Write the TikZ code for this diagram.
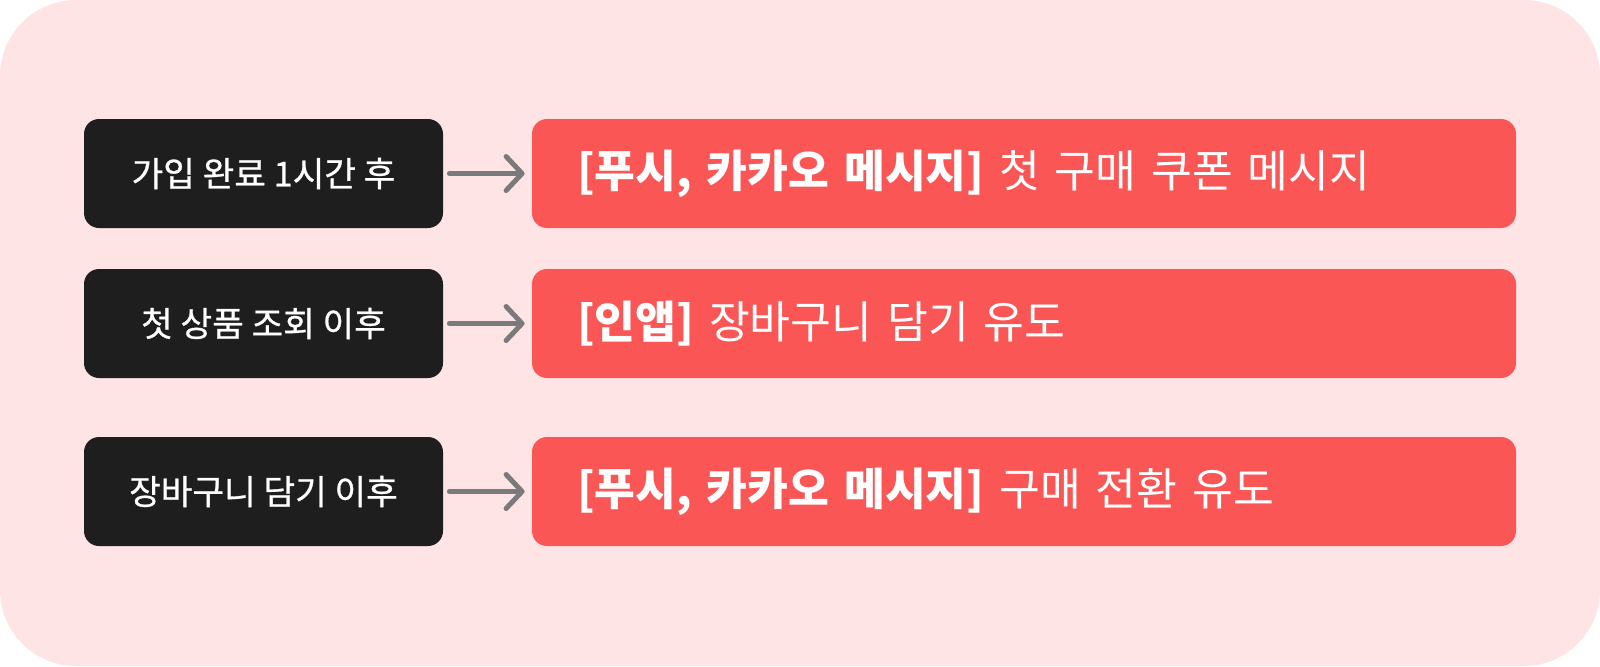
\documentclass[tikz,border=0pt]{standalone}
\usepackage{fontspec}
\newfontfamily\kr{Noto Sans CJK KR}
\newfontfamily\krmid{Noto Sans CJK KR}[FakeBold=0.8]
\usetikzlibrary{arrows.meta}
\definecolor{bgpink}{RGB}{255,228,229}
\definecolor{boxblack}{RGB}{30,30,30}
\definecolor{msgred}{RGB}{250,86,86}
\definecolor{arrowgray}{RGB}{122,122,122}
\tikzset{
  trigger/.style={rectangle, fill=boxblack, rounded corners=7.5pt, inner sep=0pt,
    minimum width=179.5pt, minimum height=54.5pt, text=white,
    font=\krmid\fontsize{17.2}{17.2}\selectfont},
  message/.style={rectangle, fill=msgred, rounded corners=7.5pt, inner xsep=22.5pt,
    inner ysep=0pt, text width=447pt, align=left, minimum height=54.5pt, text=white,
    font=\kr\fontsize{22.2}{22.2}\selectfont},
  flow/.style={draw=arrowgray, line width=2.5pt, line cap=round,
    -{Straight Barb[length=8pt, width=17pt, round]}, shorten <=3pt, shorten >=3.5pt}
}
\begin{document}
\begin{tikzpicture}[x=0.5pt, y=-0.5pt]
    \fill[bgpink, rounded corners=38pt] (0,0) rectangle (1600,666);
    \draw 
    (263.5,173.5)node(t1)[trigger]{가입 완료 1시간 후}
    (263.5,323.5)node(t2)[trigger]{첫 상품 조회 이후}
    (263.5,491.5)node(t3)[trigger]{장바구니 담기 이후}
    (1024,173.5)node(m1)[message]{\textbf{[푸시, 카카오 메시지]} 첫 구매 쿠폰 메시지}
    (1024,323.5)node(m2)[message]{\textbf{[인앱]} 장바구니 담기 유도}
    (1024,491.5)node(m3)[message]{\textbf{[푸시, 카카오 메시지]} 구매 전환 유도};
    %
    \draw[flow] (t1)--(m1);
    \draw[flow] (t2)--(m2);
    \draw[flow] (t3)--(m3);
\end{tikzpicture}
\end{document}
